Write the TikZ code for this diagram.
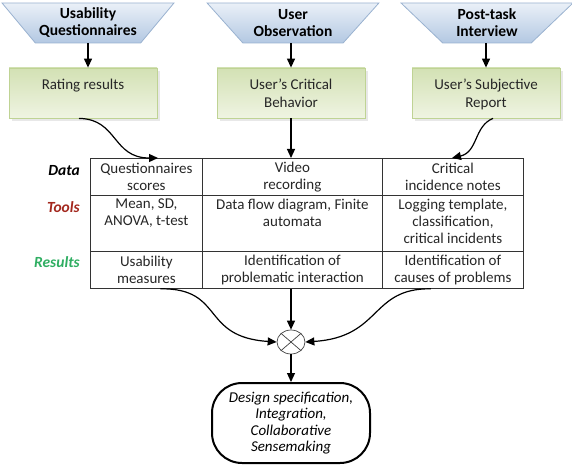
\documentclass[tikz,border=0pt]{standalone}
\usepackage{fontspec}
\setmainfont{Carlito}
\usetikzlibrary{shapes.geometric,shapes.misc,arrows.meta,shadows}
\definecolor{trapfill1}{HTML}{EAF0F8}
\definecolor{trapfill2}{HTML}{B3C8E2}
\definecolor{trapdraw}{HTML}{9AB2D0}
\definecolor{grn1}{HTML}{D3E1B4}
\definecolor{grn2}{HTML}{EFF4E2}
\definecolor{grndraw}{HTML}{BFD394}
\definecolor{toolred}{HTML}{A3281E}
\definecolor{resgreen}{HTML}{2FAE62}
\begin{document}
\begin{tikzpicture}[x=1pt,y=-1pt,
  trap/.style={trapezium, shape border rotate=180, trapezium angle=44,
    trapezium stretches=true, minimum width=172pt, minimum height=40pt,
    top color=trapfill1, bottom color=trapfill2, draw=trapdraw, line width=0.8pt,
    inner sep=0pt, align=center, font=\fontsize{15.5}{17}\selectfont\bfseries},
  gbox/.style={rectangle, minimum width=148pt, minimum height=50pt,
    top color=grn1, bottom color=grn2, draw=grndraw, line width=0.8pt,
    drop shadow={shadow xshift=3pt, shadow yshift=-3pt, fill=gray!35},
    inner sep=0pt},
  gtext/.style={align=center, inner sep=0pt, anchor=north,
    font=\fontsize{15}{18}\selectfont, text=black!85},
  cell/.style={rectangle, draw=black!80, line width=0.8pt, inner sep=0pt, anchor=north west},
  ctext/.style={align=center, inner sep=0pt, font=\fontsize{15}{17}\selectfont, text=black!85},
  rowlab/.style={anchor=east, inner sep=0pt, font=\fontsize{15.5}{17}\selectfont\bfseries\itshape},
  arr/.style={line width=1.2pt, -{Triangle[length=9pt,width=8pt]}},
  term/.style={rectangle, rounded corners=30pt, draw=black, line width=2pt,
    minimum width=158pt, minimum height=80pt, align=center, inner sep=0pt,
    font=\fontsize{15}{16.5}\selectfont\itshape}
]
\useasboundingbox (0,0) rectangle (572,470);

% trapezoids
\node[trap] (u1) at (88,23) {Usability\\Questionnaires};
\node[trap] (u2) at (293,23) {User\\Observation};
\node[trap] (u3) at (487,23) {Post-task\\Interview};

% green boxes
\node[gbox] (g1) at (83,93) {};
\node[gbox] (g2) at (291,93) {};
\node[gbox] (g3) at (486,93) {};
\node[gtext] (g1t) at ([yshift=-11]g1.north) {Rating results};
\node[gtext] (g2t) at ([yshift=-11]g2.north) {User’s Critical\\Behavior};
\node[gtext] (g3t) at ([yshift=-11]g3.north) {User’s Subjective\\Report};

\draw[arr] (u1.south) -- (u1.south |- g1.north);
\draw[arr] (u2.south -| g2) -- (g2.north);
\draw[arr] (u3.south -| g3) -- (g3.north);

% table cells
\node[cell, minimum width=112pt, minimum height=37pt] (d1) at (90,158) {};
\node[cell, minimum width=180pt, minimum height=37pt] (d2) at (202,158) {};
\node[cell, minimum width=141pt, minimum height=37pt] (d3) at (382,158) {};
\node[cell, minimum width=112pt, minimum height=56pt] (t1) at (90,195) {};
\node[cell, minimum width=180pt, minimum height=56pt] (t2) at (202,195) {};
\node[cell, minimum width=141pt, minimum height=56pt] (t3) at (382,195) {};
\node[cell, minimum width=112pt, minimum height=37pt] (r1) at (90,251) {};
\node[cell, minimum width=180pt, minimum height=37pt] (r2) at (202,251) {};
\node[cell, minimum width=141pt, minimum height=37pt] (r3) at (382,251) {};

\node[ctext] (d1t) at (d1.center) {Questionnaires\\scores};
\node[ctext] (d2t) at (d2.center) {Video\\recording};
\node[ctext] (d3t) at (d3.center) {Critical\\incidence notes};
\node[ctext, anchor=north] (t1t) at ([yshift=-3.5]t1.north) {Mean, SD,\\ANOVA, t-test};
\node[ctext, anchor=north] (t2t) at ([yshift=-3.5]t2.north) {Data flow diagram, Finite\\automata};
\node[ctext, anchor=north] (t3t) at ([yshift=-3.5]t3.north) {Logging template,\\classification,\\critical incidents};
\node[ctext] (r1t) at (r1.center) {Usability\\measures};
\node[ctext] (r2t) at (r2.center) {Identification of\\problematic interaction};
\node[ctext] (r3t) at (r3.center) {Identification of\\causes of problems};

% row labels
\node[rowlab, text=black] (ld) at (80,171) {Data};
\node[rowlab, text=toolred] (lt) at (80,207) {Tools};
\node[rowlab, text=resgreen] (lr) at (80,262) {Results};

% arrows into table
\coordinate (c1end) at (158,158);
\coordinate (c3end) at (452,158);
\draw[arr] ([xshift=-4]g1.south) .. controls (118,119) and (112,158) .. (c1end);
\draw[arr] (g2.south) -- (g2.south |- d2.north);
\draw[arr] ([xshift=7]g3.south) .. controls (474,126) and (478,152) .. (c3end);

% combiner
\node[ellipse, draw=black!75, line width=0.7pt, minimum width=28pt, minimum height=24pt, inner sep=0pt] (cx) at (291,342) {};
\draw[black!75, line width=0.7pt] (cx.north west) -- (cx.south east);
\draw[black!75, line width=0.7pt] (cx.north east) -- (cx.south west);

\draw[arr] ([xshift=14]r1.south) .. controls (225,288) and (200,337) .. (cx.west);
\draw[arr] (cx.north |- r2.south) -- (cx.north);
\draw[arr] ([xshift=-22]r3.south) .. controls (370,288) and (382,337) .. (cx.east);

% terminal
\node[term] (tm) at (291,423) {Design specification,\\Integration,\\Collaborative\\Sensemaking};
\draw[arr] (cx.south) -- (tm.north);
\end{tikzpicture}
\end{document}
